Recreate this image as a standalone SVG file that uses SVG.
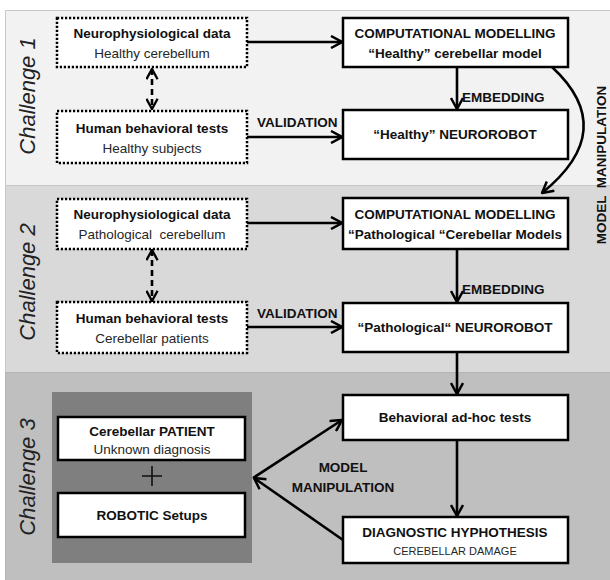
<svg xmlns="http://www.w3.org/2000/svg" width="610" height="580" viewBox="0 0 610 580">
<style>
  text { font-family: "Liberation Sans", Arial, sans-serif; fill: #111; }
  .b { font-weight: bold; font-size: 13.5px; }
  .r { font-size: 13.5px; fill: #262626; }
  .s { font-size: 11px; fill: #262626; }
  .ch { font-style: italic; font-size: 22px; fill: #222; }
  .solid { fill: #fff; stroke: #000; stroke-width: 2.5; }
  .dot { fill: #fff; stroke: #000; stroke-width: 2.5; stroke-dasharray: 2.2 1.8; }
  .ln { fill: none; stroke: #000; stroke-width: 2.6; }
  .dash { fill: none; stroke: #000; stroke-width: 2.6; stroke-dasharray: 6 4; }
</style>
<defs>
  <marker id="ah" viewBox="0 0 14 14" refX="13" refY="7" markerWidth="14" markerHeight="14" markerUnits="userSpaceOnUse" orient="auto">
    <path d="M2,1 L13,7 L2,13" fill="none" stroke="#000" stroke-width="2.5"/>
  </marker>
  <marker id="ahs" viewBox="0 0 14 14" refX="13" refY="7" markerWidth="13" markerHeight="13" markerUnits="userSpaceOnUse" orient="auto-start-reverse">
    <path d="M2,1 L13,7 L2,13" fill="none" stroke="#000" stroke-width="2.5"/>
  </marker>
</defs>

<g id="bands">
  <rect x="5.5" y="10.5" width="606" height="175" fill="#f2f2f2" stroke="#c8c8c8" stroke-width="1"/>
  <rect x="5.5" y="185.5" width="606" height="187" fill="#d9d9d9" stroke="#c8c8c8" stroke-width="1"/>
  <rect x="5.5" y="372.5" width="606" height="210" fill="#bfbfbf" stroke="#b4b4b4" stroke-width="1"/>
  <rect x="52" y="392" width="200" height="171" fill="#7f7f7f"/>
</g>

<g id="labels">
  <text class="ch" transform="translate(35,96) rotate(-90)" text-anchor="middle">Challenge 1</text>
  <text class="ch" transform="translate(35,282) rotate(-90)" text-anchor="middle">Challenge 2</text>
  <text class="ch" transform="translate(35,477) rotate(-90)" text-anchor="middle">Challenge 3</text>
  <text class="b" transform="translate(606,165) rotate(-90)" text-anchor="middle" xml:space="preserve">MODEL  MANIPULATION</text>
</g>

<g id="connectors">
  <line class="ln" x1="247" y1="42" x2="342" y2="42" marker-end="url(#ah)"/>
  <line class="ln" x1="247" y1="137" x2="342" y2="137" marker-end="url(#ah)"/>
  <line class="ln" x1="457" y1="67" x2="457" y2="109" marker-end="url(#ah)"/>
  <line class="dash" x1="152" y1="69" x2="152" y2="109" marker-start="url(#ahs)" marker-end="url(#ahs)"/>
  <path class="ln" d="M552,67 Q620,130 542,193" marker-end="url(#ah)"/>
  <line class="ln" x1="247" y1="223" x2="342" y2="223" marker-end="url(#ah)"/>
  <line class="ln" x1="247" y1="327" x2="342" y2="327" marker-end="url(#ah)"/>
  <line class="ln" x1="457" y1="249" x2="457" y2="302" marker-end="url(#ah)"/>
  <line class="dash" x1="152" y1="250" x2="152" y2="301" marker-start="url(#ahs)" marker-end="url(#ahs)"/>
  <line class="ln" x1="457" y1="352" x2="457" y2="394" marker-end="url(#ah)"/>
  <line class="ln" x1="457" y1="440" x2="457" y2="516" marker-end="url(#ah)"/>
  <line class="ln" x1="253" y1="478" x2="342" y2="420" marker-end="url(#ah)"/>
  <line class="ln" x1="343" y1="540" x2="254" y2="478" marker-end="url(#ah)"/>
  <text class="b" x="257" y="127">VALIDATION</text>
  <text class="b" x="462" y="102">EMBEDDING</text>
  <text class="b" x="257" y="318">VALIDATION</text>
  <text class="b" x="462" y="294">EMBEDDING</text>
  <text class="b" x="343" y="472" text-anchor="middle">MODEL</text>
  <text class="b" x="343" y="492" text-anchor="middle">MANIPULATION</text>
</g>

<g id="n-neuro1">
  <rect class="dot" x="57" y="18" width="190" height="49"/>
  <text class="b" x="152" y="38" text-anchor="middle">Neurophysiological data</text>
  <text class="r" x="152" y="58" text-anchor="middle">Healthy cerebellum</text>
</g>
<g id="n-human1">
  <rect class="dot" x="57" y="111" width="190" height="52"/>
  <text class="b" x="152" y="133" text-anchor="middle">Human behavioral tests</text>
  <text class="r" x="152" y="153" text-anchor="middle">Healthy subjects</text>
</g>
<g id="n-comp1">
  <rect class="solid" x="343" y="18" width="225" height="49"/>
  <text class="b" x="455" y="38" text-anchor="middle">COMPUTATIONAL MODELLING</text>
  <text class="b" x="455" y="58" text-anchor="middle">“Healthy” cerebellar model</text>
</g>
<g id="n-robot1">
  <rect class="solid" x="343" y="110" width="225" height="49"/>
  <text class="b" x="455" y="139" text-anchor="middle">“Healthy” NEUROROBOT</text>
</g>

<g id="n-neuro2">
  <rect class="dot" x="57" y="199" width="190" height="50"/>
  <text class="b" x="152" y="219" text-anchor="middle">Neurophysiological data</text>
  <text class="r" x="152" y="239" text-anchor="middle" xml:space="preserve">Pathological  cerebellum</text>
</g>
<g id="n-human2">
  <rect class="dot" x="57" y="302" width="190" height="51"/>
  <text class="b" x="152" y="323" text-anchor="middle">Human behavioral tests</text>
  <text class="r" x="152" y="343" text-anchor="middle">Cerebellar patients</text>
</g>
<g id="n-comp2">
  <rect class="solid" x="343" y="198" width="225" height="51"/>
  <text class="b" x="455" y="219" text-anchor="middle">COMPUTATIONAL MODELLING</text>
  <text class="b" x="455" y="239" text-anchor="middle">“Pathological “Cerebellar Models</text>
</g>
<g id="n-robot2">
  <rect class="solid" x="343" y="303" width="225" height="49"/>
  <text class="b" x="455" y="332" text-anchor="middle">“Pathological“ NEUROROBOT</text>
</g>

<g id="n-patient">
  <rect class="solid" x="58" y="417" width="187" height="43"/>
  <text class="b" x="152" y="436" text-anchor="middle">Cerebellar PATIENT</text>
  <text class="r" x="152" y="454" text-anchor="middle">Unknown diagnosis</text>
</g>
<g id="plus">
  <path d="M142,476 H162 M152,466 V486" stroke="#111" stroke-width="1.6" fill="none"/>
</g>
<g id="n-robotic">
  <rect class="solid" x="58" y="493" width="187" height="44"/>
  <text class="b" x="152" y="520" text-anchor="middle">ROBOTIC Setups</text>
</g>
<g id="n-behav">
  <rect class="solid" x="343" y="395" width="225" height="45"/>
  <text class="b" x="455" y="422" text-anchor="middle">Behavioral ad-hoc tests</text>
</g>
<g id="n-diag">
  <rect class="solid" x="343" y="517" width="225" height="46"/>
  <text class="b" x="455" y="537" text-anchor="middle">DIAGNOSTIC HYPHOTHESIS</text>
  <text class="s" x="455" y="555" text-anchor="middle">CEREBELLAR DAMAGE</text>
</g>
</svg>
